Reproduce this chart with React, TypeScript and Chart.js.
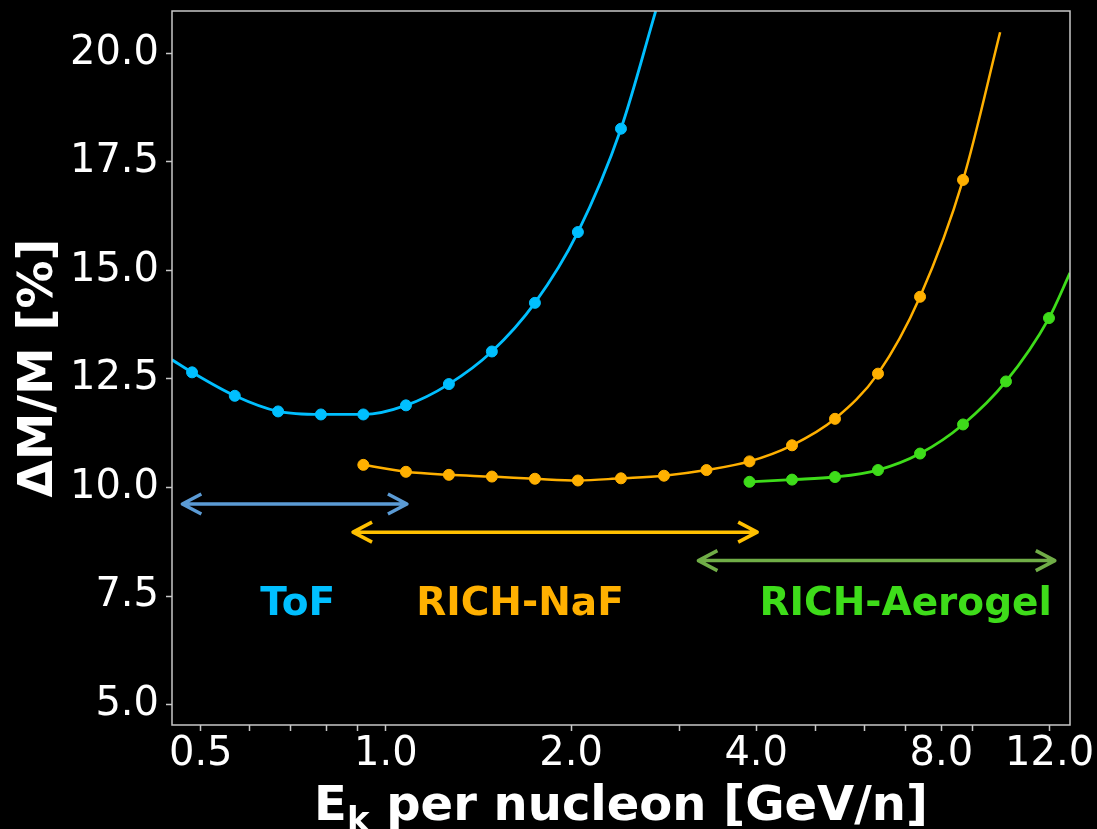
import React, { useEffect, useRef } from 'react';
import { Chart, registerables } from 'chart.js';

Chart.register(...registerables);

// Kinetic energy per nucleon [GeV/n] of each bin and mass resolution ΔM/M [%]
const tofEnergy = [0.484, 0.568, 0.668, 0.784, 0.919, 1.078, 1.266, 1.487, 1.747, 2.052, 2.411];
const tofResolution = [12.65, 12.11, 11.75, 11.68, 11.68, 11.89, 12.38, 13.13, 14.25, 15.88, 18.26];
const tofCurveStart = [0.449, 12.94];
const tofCurveEnd = [2.746, 20.97];

const nafEnergy = [0.919, 1.078, 1.266, 1.487, 1.747, 2.052, 2.411, 2.832, 3.321, 3.901, 4.574, 5.373, 6.311, 7.387, 8.677];
const nafResolution = [10.52, 10.36, 10.29, 10.25, 10.2, 10.16, 10.21, 10.27, 10.4, 10.6, 10.97, 11.58, 12.62, 14.39, 17.08];
const nafCurveEnd = [9.97, 20.48];

const aglEnergy = [3.901, 4.574, 5.373, 6.311, 7.387, 8.677, 10.19, 11.97];
const aglResolution = [10.13, 10.18, 10.24, 10.4, 10.78, 11.45, 12.44, 13.9];
const aglCurveEnd = [12.95, 14.94];

// Energy coverage of each sub-detector
const detectorNames = ['ToF', 'RICH-NaF', 'RICH-Aerogel'];
const rangeLow = [0.465, 0.881, 3.21];
const rangeHigh = [1.086, 4.03, 12.28];
const rangeArrowLevel = [9.62, 8.97, 8.315];
const nameX = [0.719, 1.652, 7.0];
const nameLevel = 7.06;

const xTicks = [0.5, 0.6, 0.7, 0.8, 0.9, 1, 2, 3, 4, 5, 6, 7, 8, 9, 12];
const xTickLabels = [0.5, 1, 2, 4, 8, 12];
const yTicks = [5, 7.5, 10, 12.5, 15, 17.5, 20];

const X_MIN = 0.449;
const X_MAX = 12.95;
const Y_MIN = 4.53;
const Y_MAX = 20.97;

const TOF_COLOR = '#00BFFF';
const NAF_COLOR = '#FFB000';
const AGL_COLOR = '#3EDC1A';
const curveColors = [TOF_COLOR, NAF_COLOR, AGL_COLOR];
const arrowColors = ['#5B9BD5', '#FFC000', '#70AD47'];
const FRAME_COLOR = '#C8C8C8';
const FONT = '"DejaVu Sans", Verdana, sans-serif';

type Pt = { x: number; y: number };

function toPoints(xs: number[], ys: number[]): Pt[] {
  return xs.map((x, i) => ({ x, y: ys[i] }));
}

function curveDataset(points: Pt[], markerFrom: number, markerTo: number, color: string, width: number) {
  return {
    data: points,
    borderColor: color,
    backgroundColor: color,
    borderWidth: width,
    pointBackgroundColor: color,
    pointBorderColor: color,
    pointBorderWidth: 1,
    pointRadius: (c: any) => (c.dataIndex >= markerFrom && c.dataIndex <= markerTo ? 5.5 : 0),
    cubicInterpolationMode: 'monotone' as const,
    fill: false,
  };
}

const overlayPlugin = {
  id: 'overlay',
  afterDatasetsDraw(chart: any) {
    const { ctx, scales } = chart;
    const xs = scales.x;
    const ys = scales.y;
    ctx.save();
    detectorNames.forEach((name, i) => {
      const x0 = xs.getPixelForValue(rangeLow[i]);
      const x1 = xs.getPixelForValue(rangeHigh[i]);
      const py = ys.getPixelForValue(rangeArrowLevel[i]);
      ctx.strokeStyle = arrowColors[i];
      ctx.lineWidth = 3.5;
      ctx.lineJoin = 'round';
      ctx.lineCap = 'butt';
      ctx.beginPath();
      ctx.moveTo(x0 + 1, py);
      ctx.lineTo(x1 - 1, py);
      ctx.moveTo(x0 + 20, py - 10);
      ctx.lineTo(x0 + 1, py);
      ctx.lineTo(x0 + 20, py + 10);
      ctx.moveTo(x1 - 20, py - 10);
      ctx.lineTo(x1 - 1, py);
      ctx.lineTo(x1 - 20, py + 10);
      ctx.stroke();

      ctx.fillStyle = curveColors[i];
      ctx.font = `bold 39px ${FONT}`;
      ctx.textAlign = 'center';
      ctx.textBaseline = 'alphabetic';
      ctx.fillText(name, xs.getPixelForValue(nameX[i]), ys.getPixelForValue(nameLevel));
    });
    ctx.restore();
  },
  afterDraw(chart: any) {
    const { ctx, chartArea: a } = chart;
    ctx.save();
    // axes frame
    ctx.strokeStyle = FRAME_COLOR;
    ctx.lineWidth = 1.5;
    ctx.strokeRect(a.left, a.top, a.right - a.left, a.bottom - a.top);

    ctx.fillStyle = '#FFFFFF';
    ctx.textBaseline = 'alphabetic';

    // x-axis title with subscript
    const mainFont = `bold 48px ${FONT}`;
    const subFont = `bold 34px ${FONT}`;
    const parts: [string, string, number][] = [
      ['E', mainFont, 0],
      ['k', subFont, 11],
      [' per nucleon [GeV/n]', mainFont, 0],
    ];
    let total = 0;
    const widths = parts.map(([t, f]) => {
      ctx.font = f;
      const w = ctx.measureText(t).width;
      total += w;
      return w;
    });
    let cx = (a.left + a.right) / 2 - total / 2;
    const baseY = a.bottom + 95;
    ctx.textAlign = 'left';
    parts.forEach(([t, f, dy], i) => {
      ctx.font = f;
      ctx.fillText(t, cx, baseY + dy);
      cx += widths[i];
    });

    // y-axis title
    ctx.translate(52, (a.top + a.bottom) / 2);
    ctx.rotate(-Math.PI / 2);
    ctx.textAlign = 'center';
    ctx.font = `bold 48px ${FONT}`;
    ctx.fillText('ΔM/M [%]', 0, 0);
    ctx.restore();
  },
};

export default function App() {
  const canvasRef = useRef<HTMLCanvasElement | null>(null);

  useEffect(() => {
    const canvas = canvasRef.current;
    if (!canvas) return;

    const tofPoints = [
      { x: tofCurveStart[0], y: tofCurveStart[1] },
      ...toPoints(tofEnergy, tofResolution),
      { x: tofCurveEnd[0], y: tofCurveEnd[1] },
    ];
    const nafPoints = [...toPoints(nafEnergy, nafResolution), { x: nafCurveEnd[0], y: nafCurveEnd[1] }];
    const aglPoints = [...toPoints(aglEnergy, aglResolution), { x: aglCurveEnd[0], y: aglCurveEnd[1] }];

    const chart = new Chart(canvas, {
      type: 'line',
      data: {
        datasets: [
          curveDataset(tofPoints, 1, tofEnergy.length, TOF_COLOR, 2.8),
          curveDataset(nafPoints, 0, nafEnergy.length - 1, NAF_COLOR, 2.5),
          curveDataset(aglPoints, 0, aglEnergy.length - 1, AGL_COLOR, 2.8),
        ] as any,
      },
      options: {
        animation: false,
        responsive: false,
        devicePixelRatio: 1,
        events: [],
        layout: { padding: { left: 0, right: 27, top: 11, bottom: 0 } },
        plugins: {
          legend: { display: false },
          tooltip: { enabled: false },
        },
        scales: {
          x: {
            type: 'logarithmic',
            min: X_MIN,
            max: X_MAX,
            afterBuildTicks: (s: any) => {
              s.ticks = xTicks.map((v) => ({ value: v }));
            },
            afterFit: (s: any) => {
              s.height = 104;
              s.paddingLeft = 0;
              s.paddingRight = 0;
            },
            border: { display: false },
            grid: {
              drawOnChartArea: false,
              drawTicks: true,
              tickLength: 6,
              tickColor: FRAME_COLOR,
              tickWidth: 1.5,
            },
            ticks: {
              autoSkip: false,
              maxRotation: 0,
              minRotation: 0,
              padding: 0,
              color: '#FFFFFF',
              font: { family: FONT, size: 40 },
              callback: (v: any) => (xTickLabels.includes(Number(v)) ? Number(v).toFixed(1) : ''),
            },
          },
          y: {
            type: 'linear',
            min: Y_MIN,
            max: Y_MAX,
            afterBuildTicks: (s: any) => {
              s.ticks = yTicks.map((v) => ({ value: v }));
            },
            afterFit: (s: any) => {
              s.width = 172;
              s.paddingTop = 0;
              s.paddingBottom = 0;
            },
            border: { display: false },
            grid: {
              drawOnChartArea: false,
              drawTicks: true,
              tickLength: 6,
              tickColor: FRAME_COLOR,
              tickWidth: 1.5,
            },
            ticks: {
              padding: 7,
              color: '#FFFFFF',
              font: { family: FONT, size: 40 },
              callback: (v: any) => Number(v).toFixed(1),
            },
          },
        },
      },
      plugins: [overlayPlugin],
    });

    return () => {
      chart.destroy();
    };
  }, []);

  return (
    <div
      style={{
        position: 'fixed',
        left: 0,
        top: 0,
        width: 1097,
        height: 829,
        background: '#000000',
      }}
    >
      <canvas ref={canvasRef} width={1097} height={829} style={{ display: 'block' }} />
    </div>
  );
}
